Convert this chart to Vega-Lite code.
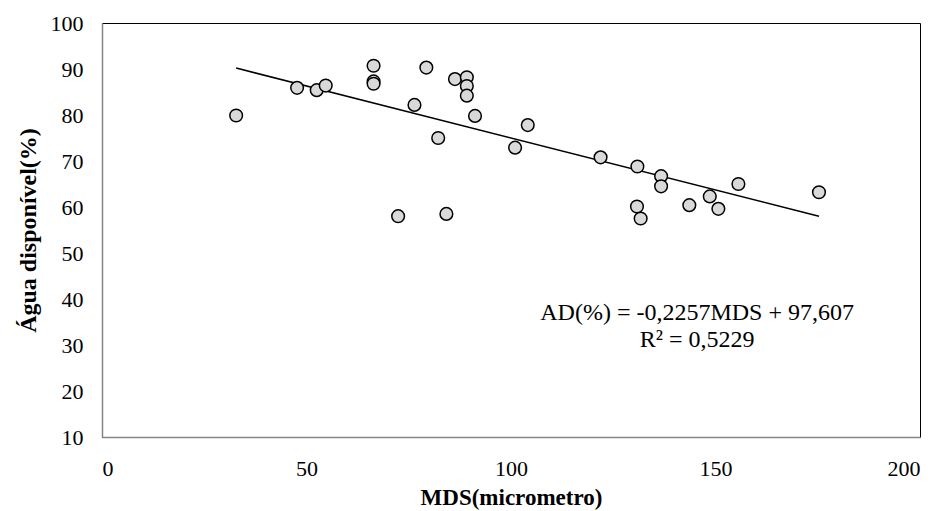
{
  "$schema": "https://vega.github.io/schema/vega-lite/v6.json",
  "width": 818,
  "height": 414,
  "autosize": {"type": "none"},
  "padding": {"left": 102, "top": 23, "right": 13, "bottom": 74},
  "background": "white",
  "config": {
    "view": {"stroke": "black", "strokeWidth": 1},
    "font": "Liberation Serif",
    "axis": {
      "grid": false,
      "ticks": false,
      "domainColor": "#868686",
      "domainWidth": 1.5,
      "labelFont": "Liberation Serif",
      "labelFontSize": 22,
      "labelColor": "black",
      "titleFont": "Liberation Serif",
      "titleFontSize": 24,
      "titleFontWeight": "bold",
      "titleColor": "black"
    }
  },
  "datasets": {
    "pts": [
      {"mds": 32.8, "ad": 79.9},
      {"mds": 47.7, "ad": 85.9},
      {"mds": 52.5, "ad": 85.4},
      {"mds": 54.7, "ad": 86.4},
      {"mds": 66.4, "ad": 90.7},
      {"mds": 66.4, "ad": 87.3},
      {"mds": 66.4, "ad": 86.8},
      {"mds": 79.3, "ad": 90.3},
      {"mds": 86.3, "ad": 87.8},
      {"mds": 89.2, "ad": 88.2},
      {"mds": 89.2, "ad": 86.3},
      {"mds": 89.2, "ad": 84.2},
      {"mds": 76.4, "ad": 82.2},
      {"mds": 91.2, "ad": 79.8},
      {"mds": 82.2, "ad": 75.0},
      {"mds": 104.1, "ad": 77.8},
      {"mds": 101.0, "ad": 72.9},
      {"mds": 72.4, "ad": 58.0},
      {"mds": 84.2, "ad": 58.5},
      {"mds": 121.9, "ad": 70.8},
      {"mds": 130.9, "ad": 68.8},
      {"mds": 136.7, "ad": 66.7},
      {"mds": 136.7, "ad": 64.5},
      {"mds": 130.8, "ad": 60.1},
      {"mds": 131.7, "ad": 57.5},
      {"mds": 143.6, "ad": 60.4},
      {"mds": 148.6, "ad": 62.3},
      {"mds": 150.7, "ad": 59.6},
      {"mds": 155.6, "ad": 65.0},
      {"mds": 175.3, "ad": 63.2}
    ],
    "trend": [
      {"mds": 32.8, "ad": 90.2},
      {"mds": 175.3, "ad": 58.0}
    ]
  },
  "layer": [
    {
      "data": {"name": "trend"},
      "mark": {"type": "line", "color": "black", "strokeWidth": 1.5},
      "encoding": {
        "x": {
          "field": "mds", "type": "quantitative",
          "scale": {"domain": [0, 200], "nice": false, "zero": false},
          "axis": {"values": [0, 50, 100, 150, 200], "labelPadding": 21, "title": "MDS(micrometro)", "titlePadding": 7, "titleFontSize": 23}
        },
        "y": {
          "field": "ad", "type": "quantitative",
          "scale": {"domain": [10, 100], "nice": false, "zero": false},
          "axis": {"values": [10, 20, 30, 40, 50, 60, 70, 80, 90, 100], "labelPadding": 19, "title": "Água disponível(%)", "titlePadding": 10}
        }
      }
    },
    {
      "data": {"name": "pts"},
      "mark": {"type": "point", "filled": true, "fill": "#d9d9d9", "stroke": "black", "strokeWidth": 1.5, "size": 160, "opacity": 1},
      "encoding": {
        "x": {"field": "mds", "type": "quantitative"},
        "y": {"field": "ad", "type": "quantitative"}
      }
    },
    {
      "data": {"values": [{}]},
      "mark": {"type": "text", "align": "center", "baseline": "middle", "fontSize": 24, "font": "Liberation Serif", "color": "black", "lineHeight": 27},
      "encoding": {
        "x": {"datum": 145.5},
        "y": {"datum": 36.9},
        "text": {"value": ["AD(%) = -0,2257MDS + 97,607", "R² = 0,5229"]}
      }
    }
  ]
}
